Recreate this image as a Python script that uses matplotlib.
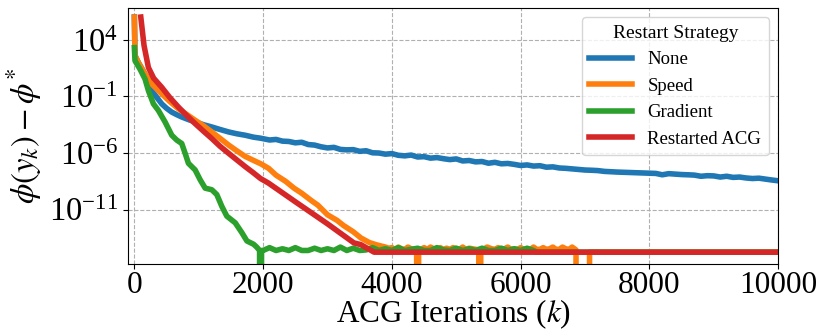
import numpy as np
import matplotlib
matplotlib.use('Agg')
import matplotlib.pyplot as plt
from matplotlib.ticker import NullLocator

plt.rcParams['font.family'] = 'serif'
plt.rcParams['font.serif'] = ['Liberation Serif', 'DejaVu Serif']
plt.rcParams['mathtext.fontset'] = 'stix'

ZERO = -np.inf  # exact zero gap -> drops off the log axis

# values are log10(phi(y_k) - phi*)
none_x = [0, 10, 62, 166, 220, 270, 350, 425, 500, 581, 660, 736, 840, 945, 1075, 1203, 1330, 1465, 1590,
          1722, 1850, 1960, 2100, 2200, 2300, 2400, 2500, 2600, 2700, 2800, 2900, 3000, 3100, 3200, 3300,
          3400, 3500, 3600, 3700, 3800, 3900, 4000, 4100, 4200, 4300, 4400, 4500, 4600, 4700, 4800, 4900,
          5000, 5100, 5200, 5300, 5400, 5500, 5600, 5700, 5800, 5900, 6000, 6100, 6200, 6300, 6400, 6500,
          6600, 6700, 6800, 6900, 7000, 7100, 7200, 7300, 7400, 7500, 7600, 7700, 7800, 7900, 8000, 8100,
          8200, 8300, 8400, 8500, 8600, 8700, 8800, 8900, 9000, 9100, 9200, 9300, 9400, 9500, 9600, 9700,
          9800, 9900, 10000]
none_log = [6.0, 2.6, 1.99, 0.97, 0.5, -0.49, -1.1, -1.66, -2.05, -2.39, -2.62, -2.82, -3.05, -3.26, -3.5,
            -3.70, -3.92, -4.14, -4.3, -4.43, -4.6, -4.69, -4.85, -4.80, -4.95, -4.98, -5.10, -5.05, -5.25,
            -5.30, -5.45, -5.55, -5.50, -5.68, -5.72, -5.70, -5.85, -5.80, -5.98, -6.00, -6.10, -6.05, -6.20,
            -6.25, -6.18, -6.35, -6.32, -6.45, -6.40, -6.50, -6.58, -6.52, -6.70, -6.66, -6.78, -6.75, -6.90,
            -6.82, -6.95, -6.92, -7.00, -7.10, -7.05, -7.15, -7.12, -7.25, -7.22, -7.32, -7.35, -7.40, -7.45,
            -7.50, -7.52, -7.55, -7.62, -7.65, -7.68, -7.70, -7.72, -7.74, -7.76, -7.78, -7.80, -7.92, -7.82,
            -7.86, -7.90, -7.92, -7.95, -8.05, -8.00, -8.02, -8.12, -8.05, -8.15, -8.12, -8.20, -8.25, -8.22,
            -8.30, -8.38, -8.45]

speed_x = [0, 10, 62, 166, 270, 425, 550, 685, 815, 945, 1075, 1203, 1330, 1465, 1590, 1722, 1850, 1960,
           2085, 2200, 2350, 2480, 2600, 2750, 2850, 3000, 3150, 3250, 3400, 3520, 3650, 3760, 3830, 3900,
           3950, 4000, 4050, 4100, 4150, 4200, 4250, 4300, 4350, 4385, 4386, 4414, 4415, 4450, 4500, 4550,
           4600, 4650, 4700, 4750, 4800, 4850, 4900, 4950, 5000, 5050, 5100, 5150, 5200, 5250, 5300, 5350,
           5351, 5379, 5380, 5420, 5480, 5550, 5600, 5650, 5700, 5750, 5800, 5850, 5900, 5950, 6000, 6050,
           6100, 6150, 6200, 6250, 6300, 6350, 6400, 6450, 6500, 6550, 6600, 6650, 6700, 6750, 6800, 6860,
           6861, 7069, 7070, 10000]
speed_log = [6.0, 2.6, 1.99, 0.97, 0.09, -0.78, -1.45, -2.10, -2.6, -3.11, -3.6, -4.14, -4.7, -5.3, -5.8,
             -6.3, -6.65, -6.94, -7.35, -7.95, -8.5, -9.1, -9.55, -10.2, -10.6, -11.45, -11.95, -12.4,
             -12.95, -13.5, -13.9, -14.1, -14.2, -14.3, -14.4, -14.35, -14.5, -14.3, -14.45, -14.5, -14.3,
             -14.45, -14.5, -14.55, ZERO, ZERO, -14.55, -14.5, -14.35, -14.5, -14.3, -14.45, -14.5, -14.35,
             -14.5, -14.4, -14.5, -14.35, -14.45, -14.5, -14.3, -14.5, -14.4, -14.45, -14.5, -14.55, ZERO,
             ZERO, -14.55, -14.5, -14.3, -14.45, -14.5, -14.35, -14.5, -14.45, -14.3, -14.5, -14.45, -14.5,
             -14.35, -14.5, -14.45, -14.5, -14.3, -14.5, -14.5, -14.35, -14.5, -14.45, -14.3, -14.5, -14.5,
             -14.3, -14.45, -14.5, -14.3, -14.55, ZERO, ZERO, -14.75, -14.75]

grad_x = [0, 10, 88, 166, 218, 296, 373, 477, 581, 659, 736, 789, 840, 944, 1022, 1100, 1203, 1281, 1358,
          1436, 1567, 1670, 1748, 1852, 1900, 1945, 1946, 1974, 1975, 2000, 2100, 2200, 2300, 2400, 2500,
          2600, 2700, 2800, 2900, 3000, 3100, 3200, 3300, 3400, 3500, 3600, 3700, 3800, 3900, 4000, 4100,
          4200, 4300, 4400, 4500, 4600, 4700, 4800, 4900, 5000, 5100, 5200, 5300, 5400, 5500, 5600, 5700,
          5800, 5900, 6000, 6100, 6200, 6250, 10000]
grad_log = [3.30, 2.14, 1.40, 0.53, -0.49, -1.66, -2.24, -3.26, -4.43, -4.86, -5.16, -6.03, -6.91, -7.49,
            -8.36, -9.10, -9.24, -9.67, -10.70, -11.57, -12.16, -13.03, -13.76, -14.05, -14.3, -14.6, ZERO,
            ZERO, -14.6, -14.6, -14.35, -14.6, -14.45, -14.6, -14.35, -14.6, -14.6, -14.4, -14.6, -14.45,
            -14.6, -14.3, -14.6, -14.4, -14.6, -14.55, -14.35, -14.6, -14.45, -14.6, -14.35, -14.6, -14.5,
            -14.4, -14.6, -14.6, -14.35, -14.55, -14.6, -14.4, -14.6, -14.45, -14.6, -14.4, -14.6, -14.6,
            -14.4, -14.6, -14.45, -14.6, -14.4, -14.6, -14.75, -14.75]

racg_x = [100, 150, 218, 300, 425, 550, 685, 815, 945, 1075, 1203, 1330, 1465, 1590, 1722, 1850, 1960, 2085,
          2500, 3000, 3410, 3516, 3724, 10000]
racg_log = [6.0, 3.5, 1.55, 0.6, -0.20, -1.1, -1.95, -2.7, -3.41, -4.08, -4.72, -5.4, -6.03, -6.6, -7.20,
            -7.75, -8.25, -8.66, -10.3, -12.25, -13.93, -14.08, -14.75, -14.75]

series = [
    ('None', none_x, none_log, '#1f77b4'),
    ('Speed', speed_x, speed_log, '#ff7f0e'),
    ('Gradient', grad_x, grad_log, '#2ca02c'),
    ('Restarted ACG', racg_x, racg_log, '#d62728'),
]

fig = plt.figure(figsize=(8.2, 3.33), dpi=100)
ax = fig.add_axes([0.156, 0.208, 0.793, 0.768])

for label, xs, logs, color in series:
    ax.plot(xs, np.power(10.0, np.array(logs)), color=color, lw=4, label=label)

ax.set_yscale('log', nonpositive='clip')
ax.set_xlim(-100, 10000)
ax.set_ylim(10 ** -15.77, 10 ** 6.8)
ax.set_yticks([1e4, 1e-1, 1e-6, 1e-11])
ax.yaxis.set_minor_locator(NullLocator())
ax.set_xticks([0, 2000, 4000, 6000, 8000, 10000])
ax.tick_params(axis='y', labelsize=23.5)
ax.tick_params(axis='x', labelsize=22.5, pad=2)

ax.grid(True, linestyle='--', color='#b0b0b0', linewidth=0.8)
ax.set_xlabel('ACG Iterations ($k$)', fontsize=22.5, labelpad=-2)
ax.set_ylabel(r'$\phi(y_k) - \phi^{*}$', fontsize=23.5, labelpad=4)

ax.legend(title='Restart Strategy', loc='upper right', fontsize=13.5, title_fontsize=14,
          handlelength=2.3, labelspacing=0.5)

fig.savefig('out.png', dpi=100)
plt.close(fig)
